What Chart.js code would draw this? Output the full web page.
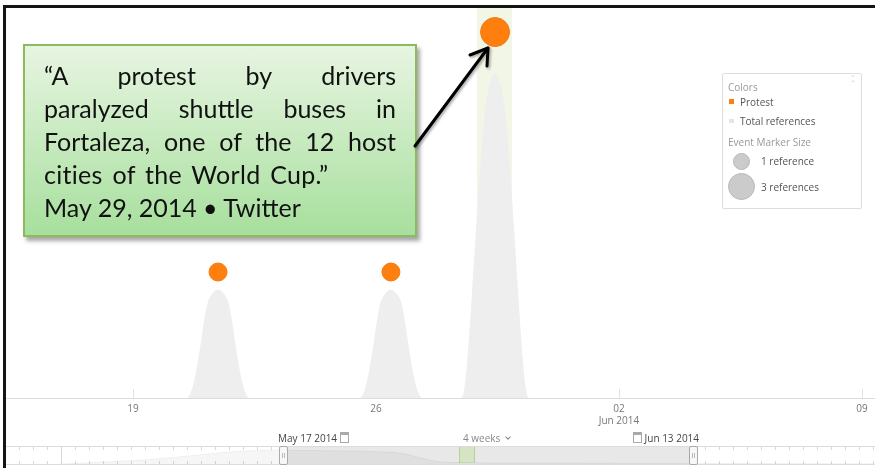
<!DOCTYPE html>
<html><head><meta charset="utf-8">
<script src="https://cdn.jsdelivr.net/npm/chart.js@4"></script>
<style>
html,body{margin:0;padding:0;background:#fff;width:875px;height:468px;overflow:hidden;font-family:"Open Sans",sans-serif;}
#frameL{position:absolute;left:3px;top:5px;width:3px;height:463px;background:#151515;}
#frameT{position:absolute;left:3px;top:5px;width:872px;height:3px;background:#151515;}
#main{position:absolute;left:6px;top:8px;width:869px;height:420px;}
#nav{position:absolute;left:6px;top:447px;width:869px;height:17px;}
#note{position:absolute;left:23px;top:44px;width:352px;height:158px;padding:13px 19px 18px 19px;
  border:2px solid #8cba5c;background:linear-gradient(#e7f5e1,#a7df9d);
  box-shadow:3px 4px 4px rgba(0,0,0,0.35);font-family:Lato,sans-serif;font-size:25px;line-height:33px;color:#111;}
#note div{white-space:nowrap;}
#note .j{text-align:justify;text-align-last:justify;white-space:normal;}
#legend{position:absolute;left:722px;top:73px;width:138px;height:134px;border:1px solid #ddd;border-radius:2px;background:#fff;font-size:10px;color:#555;}
#legend .h{position:absolute;left:5px;color:#999;}
#legend .t{position:absolute;left:17px;}
.cal{display:inline-block;width:7px;height:7px;border:1px solid #aaa;border-top-width:3px;vertical-align:-1px;}
.lbl{position:absolute;top:431px;font-size:10px;color:#444;white-space:nowrap;}
.navline{position:absolute;left:6px;width:869px;height:1px;background:#dcdcdc;}
.handle{position:absolute;top:446px;width:7px;height:17px;border:1px solid #aaa;border-radius:2px;background:#f7f7f7;}
.handle:after{content:"";position:absolute;left:2px;top:6px;width:1px;height:5px;border-left:1px solid #bbb;border-right:1px solid #bbb;}
.chev{display:inline-block;width:3px;height:3px;border-right:1px solid #888;border-bottom:1px solid #888;transform:rotate(45deg);vertical-align:3px;margin-left:6px;}
</style></head>
<body>
<div id="frameL"></div><div id="frameT"></div>
<div style="position:absolute;left:6px;top:447px;width:869px;height:17px;
 background:repeating-linear-gradient(90deg,transparent 0 13px,#d8d8d8 13px 14px) top/100% 3px no-repeat,
 repeating-linear-gradient(90deg,transparent 0 13px,#d8d8d8 13px 14px) bottom/100% 3px no-repeat;"></div>
<div style="position:absolute;left:283px;top:447px;width:410px;height:17px;background:#e8e8e8;"></div>
<div style="position:absolute;left:61px;top:447px;width:1px;height:17px;background:#d8d8d8;"></div>
<div style="position:absolute;left:459px;top:447px;width:14px;height:16px;background:#d5e4c3;border:1px solid #b8d09c;border-top:none;border-bottom:none;"></div>
<div class="navline" style="top:446px"></div>
<div class="navline" style="top:464px"></div>
<canvas id="nav" width="869" height="17"></canvas>
<div class="handle" style="left:279px"></div>
<div class="handle" style="left:689px"></div>
<div class="lbl" style="left:278px;">May 17 2014 <span class="cal"></span></div>
<div class="lbl" style="left:463px;color:#888;">4 weeks<span class="chev"></span></div>
<div class="lbl" style="left:633px;"><span class="cal"></span> Jun 13 2014</div>

<canvas id="main" width="869" height="420"></canvas>

<div id="legend">
  <div class="h" style="top:6px">Colors</div>
  <div style="position:absolute;right:6px;top:3px;color:#ccc;font-size:9px;line-height:5px;">&#710;<br>&#710;</div>
  <div style="position:absolute;left:6px;top:25px;width:5px;height:5px;background:#ff7f0e;"></div>
  <div class="t" style="top:21px">Protest</div>
  <div style="position:absolute;left:6px;top:45px;width:5px;height:4px;background:#e6e6e6;"></div>
  <div class="t" style="top:40px">Total references</div>
  <div class="h" style="top:61px">Event Marker Size</div>
  <div style="position:absolute;left:10px;top:79px;width:15px;height:15px;border-radius:50%;background:#cbcbcb;border:1px solid #b8b8b8;"></div>
  <div class="t" style="left:38px;top:80px">1 reference</div>
  <div style="position:absolute;left:5px;top:99px;width:25px;height:25px;border-radius:50%;background:#cbcbcb;border:1px solid #b8b8b8;"></div>
  <div class="t" style="left:38px;top:106px">3 references</div>
</div>

<div id="note">
  <div class="j">“A protest by drivers</div>
  <div class="j">paralyzed shuttle buses in</div>
  <div class="j">Fortaleza, one of the 12 host</div>
  <div style="word-spacing:3px;letter-spacing:0.3px">cities of the World Cup.”</div>
  <div>May 29, 2014 • Twitter</div>
</div>

<svg style="position:absolute;left:0;top:0;" width="875" height="468">
  <defs><filter id="sh" x="-20%" y="-20%" width="140%" height="140%"><feDropShadow dx="1.5" dy="1.5" stdDeviation="1" flood-color="#000" flood-opacity="0.35"/></filter></defs>
  <g filter="url(#sh)" stroke="#000" stroke-width="3" fill="none" stroke-linecap="round" stroke-linejoin="round">
    <line x1="415" y1="146" x2="488" y2="48"/>
    <polyline points="470,55 488,48 487,66"/>
  </g>
</svg>

<script>
// ---- data (x in days of May 2014; Jun 2 = 33) ----
const tickDays   = [19, 26, 33, 40];
const tickLabels = [["19"], ["26"], ["02", "Jun 2014"], ["09"]];

const totalX = [15.3,
  20.55,20.65,20.75,20.85,20.95,21.05,21.15,21.3,21.45,21.6,21.75,21.85,21.95,22.05,22.15,22.25,22.35,
  25.53,25.63,25.73,25.83,25.93,26.03,26.13,26.28,26.43,26.58,26.73,26.83,26.93,27.03,27.13,27.23,27.33,
  28.43,28.53,28.63,28.73,28.87,29.03,29.16,29.28,29.43,29.58,29.70,29.83,29.99,30.13,30.23,30.33,30.43,
  40.4];
const totalY = [0,
  0,0.04,0.14,0.3,0.5,0.72,0.88,0.97,1,0.97,0.88,0.72,0.5,0.3,0.14,0.04,0,
  0,0.04,0.14,0.3,0.5,0.72,0.88,0.97,1,0.97,0.88,0.72,0.5,0.3,0.14,0.04,0,
  0,0.06,0.35,0.8,1.5,2.25,2.7,2.9,3,2.9,2.7,2.25,1.5,0.8,0.35,0.06,0,
  0];

const eventX    = [21.45, 26.43, 29.43];
const eventY    = [1.163, 1.163, 3.378];
const eventRefs = [1, 1, 3];

const bandStart = [28.91];
const bandEnd   = [29.92];

// navigator overview (days, relative height)
const navX = [2.4, 8, 16, 24.1, 27.8, 35, 60];
const navY = [0, 0.25, 0.8, 0.7, 0.1, 0.05, 0];

const markerRadius = {1: 9, 3: 14.5};

const bandPlugin = {
  id: 'band',
  beforeDatasetsDraw(chart) {
    const {ctx, chartArea, scales} = chart;
    ctx.save();
    ctx.fillStyle = '#f2f6e6';
    bandStart.forEach((s, i) => {
      const x1 = scales.x.getPixelForValue(s), x2 = scales.x.getPixelForValue(bandEnd[i]);
      ctx.fillRect(x1, chartArea.top, x2 - x1, chartArea.bottom - chartArea.top);
    });
    ctx.strokeStyle = '#e2e2e2';
    ctx.lineWidth = 1;
    tickDays.forEach(d => {
      const x = Math.round(scales.x.getPixelForValue(d)) + 0.5;
      ctx.beginPath(); ctx.moveTo(x, chartArea.bottom - 9); ctx.lineTo(x, chartArea.bottom); ctx.stroke();
    });
    ctx.restore();
  }
};

new Chart(document.getElementById('main'), {
  type: 'scatter',
  data: {
    datasets: [
      { label: 'Protest', data: eventX.map((x, i) => ({x, y: eventY[i]})),
        backgroundColor: '#ff7f0e', borderColor: '#f27a10', borderWidth: 1,
        pointRadius: eventRefs.map(r => markerRadius[r]), pointHoverRadius: eventRefs.map(r => markerRadius[r]), order: 0 },
      { label: 'Total references', type: 'line', data: totalX.map((x, i) => ({x, y: totalY[i]})),
        showLine: true, fill: 'origin', backgroundColor: '#eeeeee', borderWidth: 0, borderColor: 'rgba(0,0,0,0)',
        pointRadius: 0, cubicInterpolationMode: 'monotone', order: 1 }
    ]
  },
  options: {
    responsive: false, animation: false, maintainAspectRatio: false,
    layout: { padding: 0, autoPadding: false },
    plugins: { legend: { display: false }, tooltip: { enabled: false } },
    scales: {
      x: { type: 'linear', min: 15.342, max: 40.375,
        afterBuildTicks: s => { s.ticks = tickDays.map(v => ({value: v})); },
        afterFit: s => { s.height = 30; s.paddingLeft = 0; s.paddingRight = 0; },
        grid: { display: false, drawTicks: false },
        border: { display: true, color: '#dcdcdc', width: 1 },
        ticks: { padding: 5, color: '#777', font: { family: 'Open Sans', size: 10 },
          maxRotation: 0, autoSkip: false,
          callback: v => { const i = tickDays.indexOf(v); return i >= 0 ? tickLabels[i] : ''; } } },
      y: { display: false, min: 0, max: 3.6 }
    }
  },
  plugins: [bandPlugin]
});

new Chart(document.getElementById('nav'), {
  type: 'line',
  data: { datasets: [{ data: navX.map((x, i) => ({x, y: navY[i]})), fill: 'origin',
    backgroundColor: 'rgba(0,0,0,0.035)', borderColor: 'rgba(0,0,0,0.05)', borderWidth: 1,
    pointRadius: 0, cubicInterpolationMode: 'monotone' }] },
  options: { responsive: false, animation: false, layout: { padding: 0, autoPadding: false },
    plugins: { legend: { display: false }, tooltip: { enabled: false } },
    scales: { x: { type: 'linear', display: false, min: -1.2, max: 56 }, y: { display: false, min: 0, max: 1 } } }
});
</script>
</body></html>
